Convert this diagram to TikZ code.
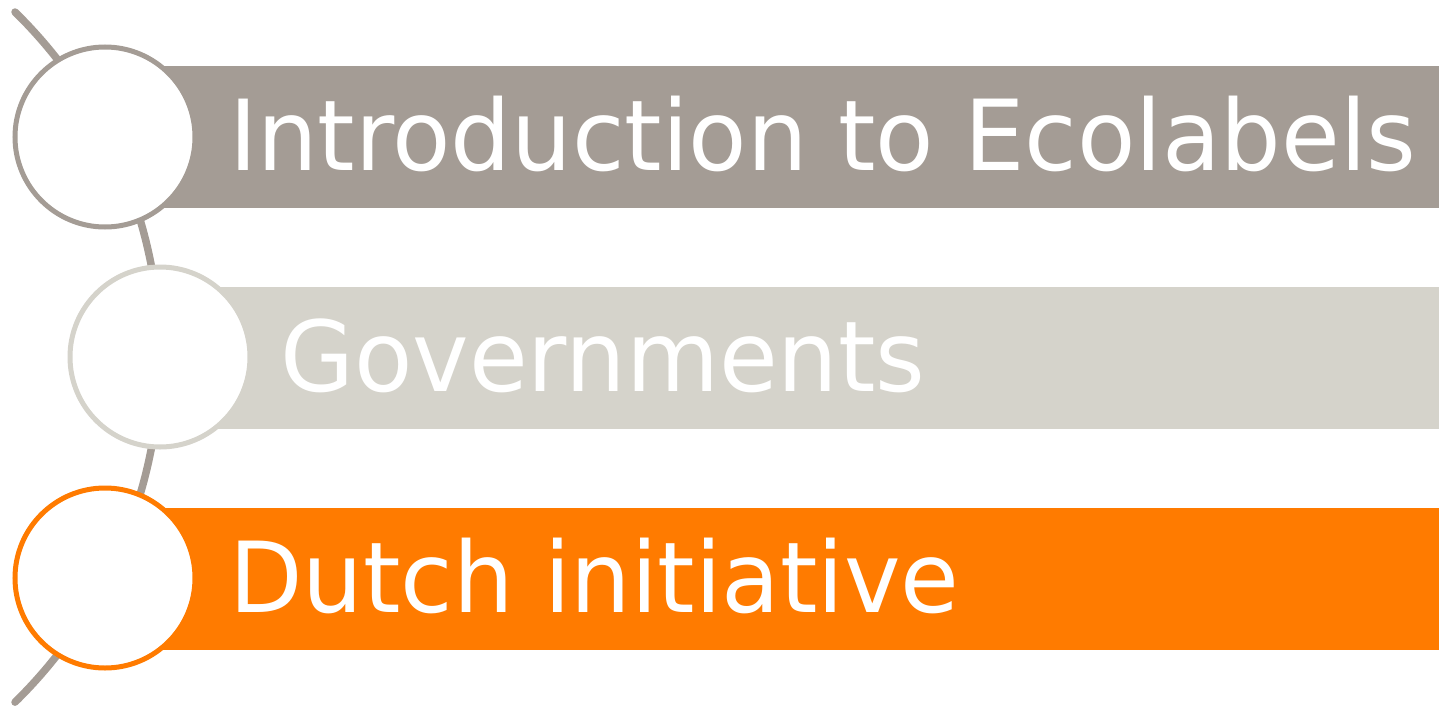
\documentclass[tikz,border=0pt]{standalone}
\usepackage{fontspec}
\setmainfont{DejaVu Sans}
\usetikzlibrary{positioning}
\definecolor{taupe}{HTML}{A49C95}
\definecolor{sand}{HTML}{D5D3CB}
\definecolor{tangerine}{HTML}{FF7B00}
\begin{document}
\begin{tikzpicture}[x=0.5pt,y=-0.5pt,semithick]
\tikzstyle{every node}=[inner sep=0pt,outer sep=0pt]
\tikzstyle{bead}=[circle,fill=white,line width=2.5pt,minimum size=90pt]
\tikzstyle{title}=[anchor=base west,text=white,xscale=0.975,font=\fontsize{49}{60}\selectfont]
\useasboundingbox (0,0) rectangle (1439,712);
% the spine
\draw[taupe,line width=3.75pt,line cap=round] (15,12) arc[start angle=-45.6,end angle=45.6,radius=483];
% bars
\fill[taupe] (105,66) rectangle (1439,208);
\fill[sand] (160,287) rectangle (1439,429);
\fill[tangerine] (105,508) rectangle (1439,650);
% beads
\node[bead,draw=taupe] (A) at (105,137) {};
\node[bead,draw=sand] (B) at (160,357) {};
\node[bead,draw=tangerine] (C) at (105,578) {};
\node[title] (a) at (229,170) {Introduction to Ecolabels};
\node[title] (b) at (280,391) {Governments};
\node[title] (c) at (229,612) {Dutch initiative};
\end{tikzpicture}
\end{document}
